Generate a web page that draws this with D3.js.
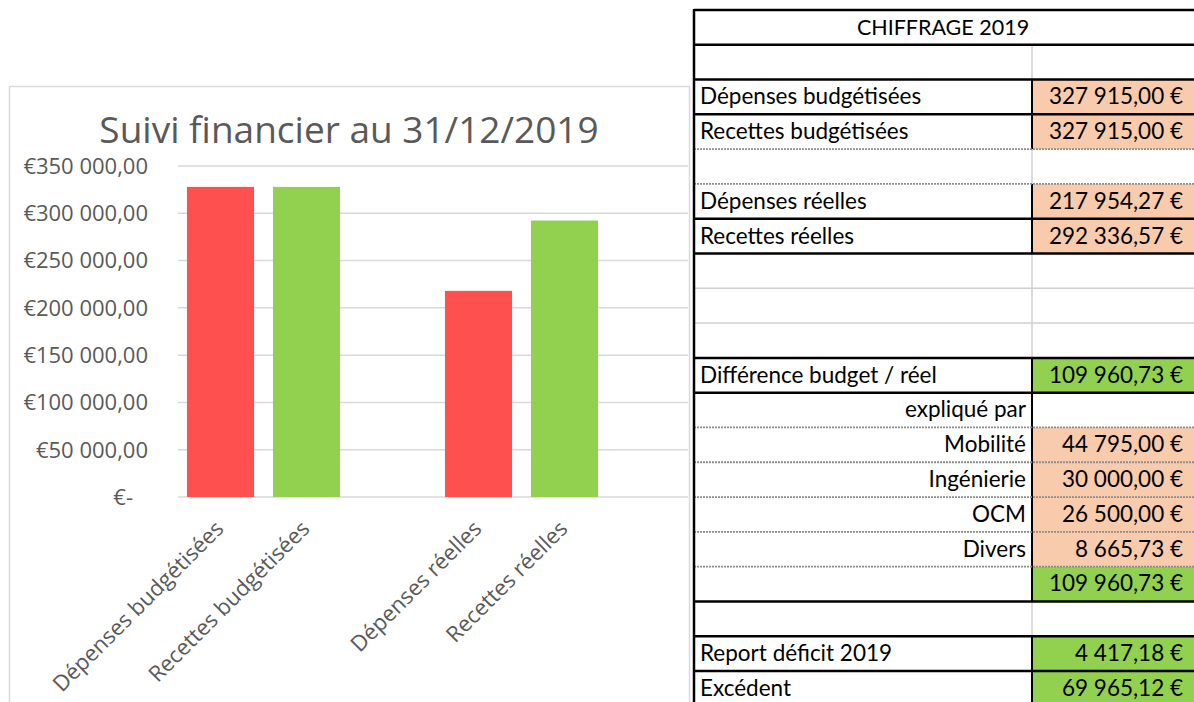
<!DOCTYPE html>
<html>
<head>
<meta charset="utf-8">
<script src="https://cdn.jsdelivr.net/npm/d3@7/dist/d3.min.js"></script>
<style>
  body { margin: 0; background: #fff; }
</style>
</head>
<body>
<script>
// ---- chart data
var chartTitle = "Suivi financier au 31/12/2019";
var categories = ["Dépenses budgétisées", "Recettes budgétisées", "", "Dépenses réelles", "Recettes réelles", ""];
var amounts = [327915.00, 327915.00, null, 217954.27, 292336.57, null];
var kinds = ["dep", "rec", null, "dep", "rec", null];
var yTicks = [0, 50000, 100000, 150000, 200000, 250000, 300000, 350000];

// ---- table data (one entry per spreadsheet row)
var tableTitle = "CHIFFRAGE 2019";
var rowLabels = ["", "", "Dépenses budgétisées", "Recettes budgétisées", "", "Dépenses réelles", "Recettes réelles",
                 "", "", "", "Différence budget / réel", "expliqué par", "Mobilité", "Ingénierie", "OCM", "Divers",
                 "", "", "Report déficit 2019", "Excédent"];
var rowValues = [null, null, 327915.00, 327915.00, null, 217954.27, 292336.57,
                 null, null, null, 109960.73, null, 44795.00, 30000.00, 26500.00, 8665.73,
                 109960.73, null, 4417.18, 69965.12];
var rowHighlight = [null, null, "peach", "peach", null, "peach", "peach",
                    null, null, null, "green", null, "peach", "peach", "peach", "peach",
                    "green", null, "green", "green"];
var rightAligned = ["expliqué par", "Mobilité", "Ingénierie", "OCM", "Divers"];

var width = 1194;
var height = 702;
var svg = d3.select("body").append("svg")
    .attr("width", width)
    .attr("height", height);

var colors = { dep: "#FF5050", rec: "#92D050", peach: "#F8CBAD", green: "#92D050" };
var grey = "#595959";

// french number formats
var euroTick = d3.formatLocale({ decimal: ",", thousands: " ", grouping: [3], currency: ["€", ""] }).format("$,.2f");
var euroCell = d3.formatLocale({ decimal: ",", thousands: " ", grouping: [3], currency: ["", " €"] }).format("$,.2f");

// ================= chart =================
var chart = svg.append("g");

// chart frame
chart.append("rect")
    .attr("x", 9.5).attr("y", 86.5)
    .attr("width", 680).attr("height", 640)
    .attr("fill", "#fff")
    .attr("stroke", "#D9D9D9")
    .attr("stroke-width", 1.5);

chart.append("text")
    .attr("x", 349).attr("y", 143)
    .attr("text-anchor", "middle")
    .attr("font-family", "'Open Sans', sans-serif")
    .attr("font-size", 37)
    .attr("fill", grey)
    .text(chartTitle);

var x = d3.scaleBand()
    .domain(d3.range(categories.length))
    .range([177.5, 693.5])
    .paddingInner(0.22)
    .paddingOuter(0.11);

var y = d3.scaleLinear()
    .domain([0, 350000])
    .range([497, 166]);

// gridlines
chart.append("g")
    .selectAll("line")
    .data(yTicks)
    .join("line")
    .attr("x1", 178).attr("x2", 688)
    .attr("y1", d => y(d)).attr("y2", d => y(d))
    .attr("stroke", "#D9D9D9")
    .attr("stroke-width", 1.5);

// y labels
chart.append("g")
    .selectAll("text")
    .data(yTicks)
    .join("text")
    .attr("x", 148)
    .attr("dx", d => d === 0 ? -15 : 0)
    .attr("y", d => y(d))
    .attr("dy", "0.36em")
    .attr("text-anchor", "end")
    .attr("font-family", "'Open Sans', sans-serif")
    .attr("font-size", 22)
    .attr("fill", grey)
    .text(d => d === 0 ? "€-" : euroTick(d));

// bars
chart.append("g")
    .selectAll("rect")
    .data(d3.range(categories.length).filter(i => amounts[i] != null))
    .join("rect")
    .attr("x", i => x(i))
    .attr("width", x.bandwidth())
    .attr("y", i => y(amounts[i]))
    .attr("height", i => y(0) - y(amounts[i]))
    .attr("fill", i => colors[kinds[i]]);

// rotated category labels
chart.append("g")
    .selectAll("text")
    .data(d3.range(categories.length).filter(i => categories[i] !== ""))
    .join("text")
    .attr("transform", i => "translate(" + (x(i) + x.bandwidth() / 2 + 4.5) + ",530) rotate(-45)")
    .attr("text-anchor", "end")
    .attr("font-family", "'Open Sans', sans-serif")
    .attr("font-size", 22)
    .attr("fill", grey)
    .text(i => categories[i]);

// ================= table =================
var table = svg.append("g");
var tLeft = 694, tDiv = 1032, tRight = 1200;
var rowY = d3.scaleLinear().domain([0, 19]).range([10, 671]);
var rowIdx = d3.range(rowLabels.length);

// border style of the top edge of each row (spreadsheet formatting)
var topBorder = ["thick", "thick", "thick", "thick", "dash", "dash", "thick", "thick", "grid", "grid",
                 "thick", "thick", "dash", "dash", "dash", "dash", "dash", "thick", "thick", "thick"];
var divider = ["none", "grid", "black", "black", "grid", "black", "black", "grid", "grid", "grid",
               "black", "black", "black", "black", "black", "black", "black", "grid", "black", "black"];

// value cell fills
table.append("g")
    .selectAll("rect")
    .data(rowIdx.filter(i => rowHighlight[i]))
    .join("rect")
    .attr("x", tDiv).attr("width", tRight - tDiv)
    .attr("y", i => rowY(i)).attr("height", i => rowY(i + 1) - rowY(i))
    .attr("fill", i => colors[rowHighlight[i]]);

// column divider
table.append("g")
    .selectAll("line")
    .data(rowIdx.filter(i => divider[i] !== "none"))
    .join("line")
    .attr("x1", tDiv).attr("x2", tDiv)
    .attr("y1", i => rowY(i)).attr("y2", i => rowY(i + 1))
    .attr("stroke", i => divider[i] === "grid" ? "#D0D0D0" : "#000")
    .attr("stroke-width", i => divider[i] === "grid" ? 1.5 : 2);

// horizontal borders
table.append("g")
    .selectAll("line")
    .data(rowIdx)
    .join("line")
    .attr("x1", tLeft).attr("x2", tRight)
    .attr("y1", i => rowY(i)).attr("y2", i => rowY(i))
    .attr("stroke", i => topBorder[i] === "thick" ? "#000" : topBorder[i] === "dash" ? "#8C8C8C" : "#D0D0D0")
    .attr("stroke-width", i => topBorder[i] === "thick" ? 2.5 : topBorder[i] === "dash" ? 1.8 : 1.5)
    .attr("stroke-dasharray", i => topBorder[i] === "dash" ? "2,1" : null);

// left table border
table.append("line")
    .attr("x1", tLeft).attr("x2", tLeft)
    .attr("y1", rowY(0) - 1).attr("y2", height)
    .attr("stroke", "#000")
    .attr("stroke-width", 2.5);

// header
table.append("text")
    .attr("x", (tLeft + tRight) / 2 - 4)
    .attr("y", rowY(1) - 10)
    .attr("text-anchor", "middle")
    .attr("font-family", "Lato, sans-serif")
    .attr("font-size", 21.5)
    .attr("fill", "#000")
    .text(tableTitle);

// row labels
table.append("g")
    .selectAll("text")
    .data(rowIdx.filter(i => rowLabels[i] !== ""))
    .join("text")
    .attr("x", i => rightAligned.includes(rowLabels[i]) ? tDiv - 6 : tLeft + 6)
    .attr("y", i => rowY(i + 1) - 10)
    .attr("text-anchor", i => rightAligned.includes(rowLabels[i]) ? "end" : "start")
    .attr("font-family", "Lato, sans-serif")
    .attr("font-size", 22.5)
    .attr("fill", "#000")
    .text(i => rowLabels[i]);

// values
table.append("g")
    .selectAll("text")
    .data(rowIdx.filter(i => rowValues[i] != null))
    .join("text")
    .attr("x", 1183)
    .attr("y", i => rowY(i + 1) - 10)
    .attr("text-anchor", "end")
    .attr("font-family", "Lato, sans-serif")
    .attr("font-size", 22.5)
    .attr("fill", "#000")
    .text(i => euroCell(rowValues[i]));
</script>
</body>
</html>
